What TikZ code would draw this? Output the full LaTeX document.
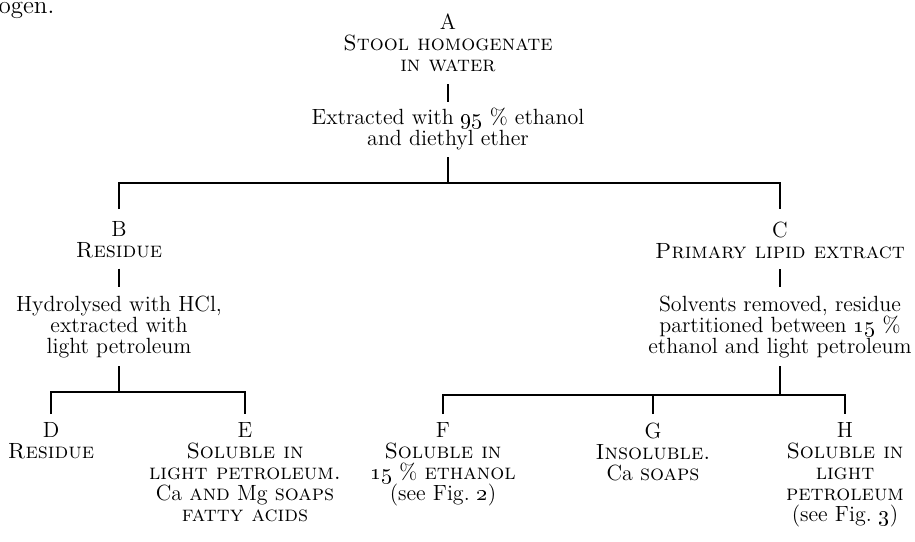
\documentclass[tikz,border=0pt]{standalone}
\usepackage{tikz}

\begin{document}
\begin{tikzpicture}[x=0.5pt, y=-0.5pt, line width=0.6pt,
    every node/.style={align=center, inner sep=0pt, anchor=north, font=\fontsize{11}{10.5}\selectfont},
    link/.style={shorten <=4pt, shorten >=4pt}]
    \useasboundingbox (0,0) rectangle (915,541);
    \node[anchor=base west, font=\fontsize{12.5}{14}\selectfont] (prev) at (-2,13) {ogen.};

    \node (a)    at (448,13)  {A\\ \textsc{Stool homogenate}\\ \textsc{in water}};
    \node (ext)  at (448,107) {Extracted with \oldstylenums{95}~\% ethanol\\ and diethyl ether};
    \node (b)    at (119,221) {B\\ \textsc{Residue}};
    \node (hyd)  at (119,295) {Hydrolysed with HCl,\\ extracted with\\ light petroleum};
    \node (c)    at (780,221) {C\\ \textsc{Primary lipid extract}};
    \node (solv) at (780,295) {Solvents removed, residue\\ partitioned between \oldstylenums{15}~\%\\ ethanol and light petroleum};
    \node (d)    at (51,422)  {D\\ \textsc{Residue}};
    \node (e)    at (245,422) {E\\ \textsc{Soluble in}\\ \textsc{light petroleum.}\\ Ca \textsc{and} Mg \textsc{soaps}\\ \textsc{fatty acids}};
    \node (f)    at (443,422) {F\\ \textsc{Soluble in}\\ \oldstylenums{15}~\% \textsc{ethanol}\\ (see Fig.~\oldstylenums{2})};
    \node (g)    at (653,422) {G\\ \textsc{Insoluble.}\\ Ca \textsc{soaps}};
    \node (h)    at (845,422) {H\\ \textsc{Soluble in}\\ \textsc{light}\\ \textsc{petroleum}\\ (see Fig.~\oldstylenums{3})};

    \coordinate (j1) at (448,183);
    \coordinate (j2) at (119,392);
    \coordinate (j3) at (780,395);

    \draw[link, shorten <=6pt, shorten >=2.5pt] (a) -- (ext);
    \draw[shorten <=3.5pt] (ext) -- (j1);
    \draw[shorten <=6pt, shorten >=6pt] (b) |- (j1) -| (c);
    \draw[link, shorten <=5pt] (b) -- (hyd);
    \draw[link, shorten <=5pt] (c) -- (solv);
    \draw[shorten <=4pt] (hyd) -- (j2);
    \draw[shorten <=4pt] (solv) -- (j3);
    \draw[link] (d) |- (j2) -| (e);
    \draw[link] (f) |- (j3) -| (h);
    \draw[shorten <=4pt] (g) -- (g |- j3);
\end{tikzpicture}
\end{document}
